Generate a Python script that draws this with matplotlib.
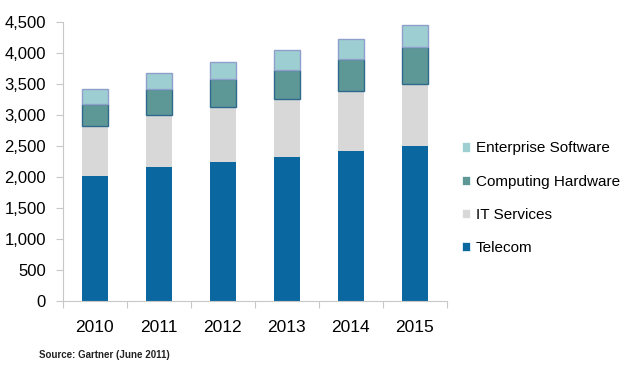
import numpy as np
import matplotlib.pyplot as plt
from matplotlib.patches import Patch

plt.rcParams['font.family'] = ['Liberation Sans', 'DejaVu Sans']

years = ['2010', '2011', '2012', '2013', '2014', '2015']
telecom = [2015, 2160, 2240, 2325, 2420, 2500]
it_services = [805, 840, 890, 935, 965, 1000]
hardware = [355, 420, 450, 465, 515, 595]
software = [245, 255, 275, 320, 325, 355]

series = [
    ('Telecom', telecom, '#0b67a0', 'none'),
    ('IT Services', it_services, '#d8d8d8', 'none'),
    ('Computing Hardware', hardware, '#5e9896', '#2f6a8c'),
    ('Enterprise Software', software, '#9dcfd2', '#8f9fcc'),
]

fig = plt.figure(figsize=(6.4, 3.67), dpi=100)
ax = fig.add_axes([0.098, 0.180, 0.600, 0.760])

x = np.arange(len(years))
bottom = np.zeros(len(years))
handles = []
for name, vals, color, edge in series:
    ax.bar(x, vals, width=0.4, bottom=bottom, color=color,
           edgecolor=edge, linewidth=1.0 if edge != 'none' else 0)
    bottom += np.array(vals)
    handles.append(Patch(facecolor=color, edgecolor='white', linewidth=0.5, label=name))

ax.set_xlim(-0.5, len(years) - 0.5)
ax.set_ylim(0, 4500)
ax.set_yticks(np.arange(0, 4501, 500))
ax.set_yticklabels([f'{v:,}' for v in range(0, 4501, 500)], fontsize=12)

# x ticks sit between categories, labels centred under bars
ax.set_xticks(np.arange(-0.5, len(years), 1.0))
ax.set_xticklabels([])
ax.set_xticks(x, minor=True)
ax.set_xticklabels(years, minor=True, fontsize=12.5)
ax.tick_params(axis='x', which='minor', length=0, pad=14)
ax.tick_params(axis='x', which='major', length=5, color='#c8c8c8', direction='out')
ax.tick_params(axis='y', length=5, color='#c8c8c8', pad=7)

for side in ['top', 'right']:
    ax.spines[side].set_visible(False)
for side in ['left', 'bottom']:
    ax.spines[side].set_color('#c8c8c8')

leg = fig.legend(handles=handles[::-1], loc='upper left', bbox_to_anchor=(0.700, 0.652),
                 frameon=False, fontsize=11, handlelength=0.55, handleheight=0.55,
                 handletextpad=0.35, labelspacing=1.25)

fig.text(0.061, 0.025, 'Source: Gartner (June 2011)', fontsize=7, fontweight='bold',
         color='#222222')

plt.savefig('out.png', dpi=100)
